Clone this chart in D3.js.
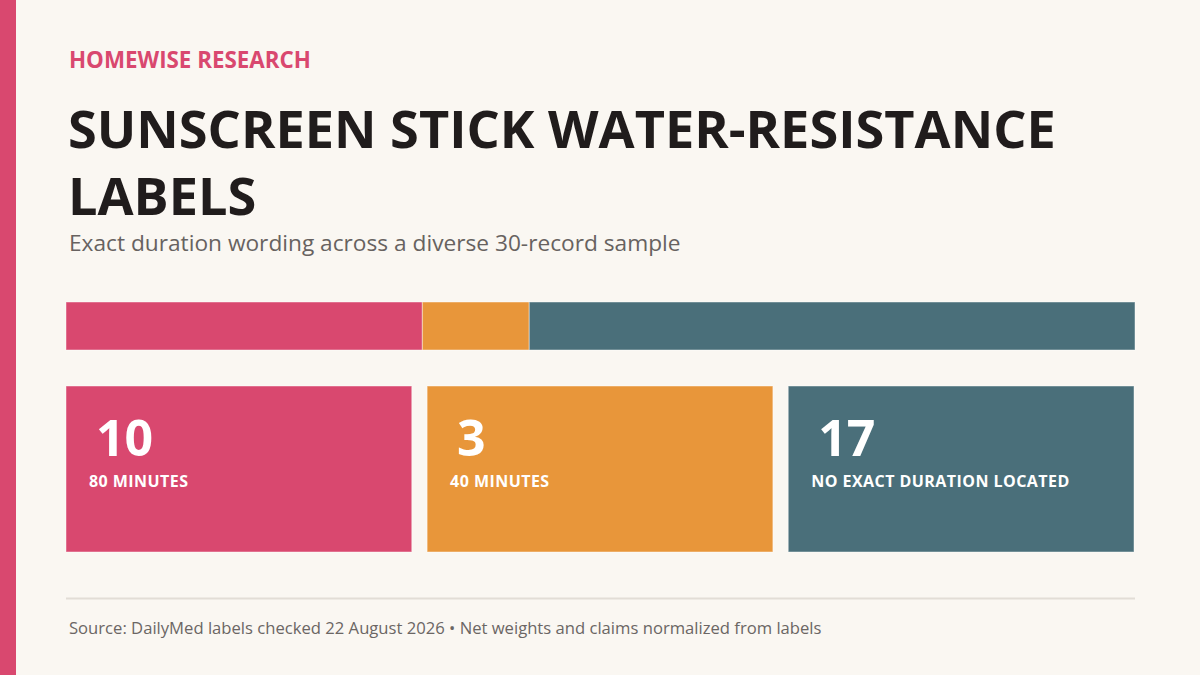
<!DOCTYPE html>
<html><head><meta charset="utf-8">
<script src="https://cdn.jsdelivr.net/npm/d3@7"></script>
<style>html,body{margin:0;padding:0;background:#faf7f2;}svg{display:block;}</style>
</head><body><div id="chart"></div>
<script>
const categories = ["80 MINUTES", "40 MINUTES", "NO EXACT DURATION LOCATED"];
const counts = [10, 3, 17];
const colors = ["#d9486f", "#e8963a", "#4a6f7a"];
const kicker = "HOMEWISE RESEARCH";
const titleLines = ["SUNSCREEN STICK WATER-RESISTANCE", "LABELS"];
const subtitle = "Exact duration wording across a diverse 30-record sample";
const source = "Source: DailyMed labels checked 22 August 2026 \u2022 Net weights and claims normalized from labels";

const W = 1200, H = 675;
const font = "'Open Sans', 'Noto Sans', sans-serif";
const svg = d3.select("#chart").append("svg").attr("width", W).attr("height", H);
svg.append("rect").attr("width", W).attr("height", H).attr("fill", "#faf7f2");
svg.append("rect").attr("x", 0).attr("y", 0).attr("width", 16).attr("height", H).attr("fill", colors[0]);

function fit(sel, w) {
  const len = sel.node().getComputedTextLength();
  const fs = parseFloat(sel.attr("font-size"));
  sel.attr("font-size", fs * w / len);
}

const k = svg.append("text").attr("x", 69).attr("y", 68).text(kicker)
  .attr("font-family", font).attr("font-weight", 700).attr("font-size", 21).attr("fill", colors[0]);
fit(k, 242);

const t1 = svg.append("text").attr("x", 68).attr("y", 148).text(titleLines[0])
  .attr("font-family", font).attr("font-weight", 700).attr("font-size", 60).attr("fill", "#201c1c");
fit(t1, 988);
svg.append("text").attr("x", 68).attr("y", 215).text(titleLines[1])
  .attr("font-family", font).attr("font-weight", 700).attr("font-size", t1.attr("font-size")).attr("fill", "#201c1c");

const st = svg.append("text").attr("x", 69).attr("y", 251).text(subtitle)
  .attr("font-family", font).attr("font-size", 22).attr("fill", "#676260");
fit(st, 612);

const total = d3.sum(counts);
const x = d3.scaleLinear().domain([0, total]).range([66, 1135]);
const cum = d3.cumsum(counts);
const starts = counts.map((d, i) => cum[i] - d);
svg.append("g").selectAll("rect").data(counts).join("rect")
  .attr("x", (d, i) => x(starts[i])).attr("y", 302)
  .attr("width", d => x(d) - x(0)).attr("height", 48)
  .attr("fill", (d, i) => colors[i])
  .attr("stroke", "rgba(255,255,255,0.45)").attr("stroke-width", 1);

const band = d3.scaleBand().domain(categories).range([66, 1134]).paddingInner(0.0425).paddingOuter(0);
const cards = svg.append("g").selectAll("g").data(categories).join("g")
  .attr("transform", d => `translate(${band(d)},386)`);
cards.append("rect").attr("width", band.bandwidth()).attr("height", 166)
  .attr("fill", (d, i) => colors[i]).attr("stroke", "rgba(255,255,255,0.45)").attr("stroke-width", 1);
cards.append("text").attr("x", 30).attr("y", 70).text((d, i) => counts[i])
  .attr("font-family", font).attr("font-weight", 700).attr("font-size", 50).attr("fill", "#fff");
cards.append("text").attr("x", 23).attr("y", 101).text(d => d)
  .attr("font-family", font).attr("font-weight", 700).attr("font-size", 16)
  .attr("letter-spacing", 0.45).attr("fill", "#fff");

svg.append("line").attr("x1", 66).attr("x2", 1135).attr("y1", 598.5).attr("y2", 598.5)
  .attr("stroke", "#e2ddd6").attr("stroke-width", 2);
const ft = svg.append("text").attr("x", 69).attr("y", 634).text(source)
  .attr("font-family", font).attr("font-size", 16).attr("fill", "#6b6664");
fit(ft, 753);
</script></body></html>
